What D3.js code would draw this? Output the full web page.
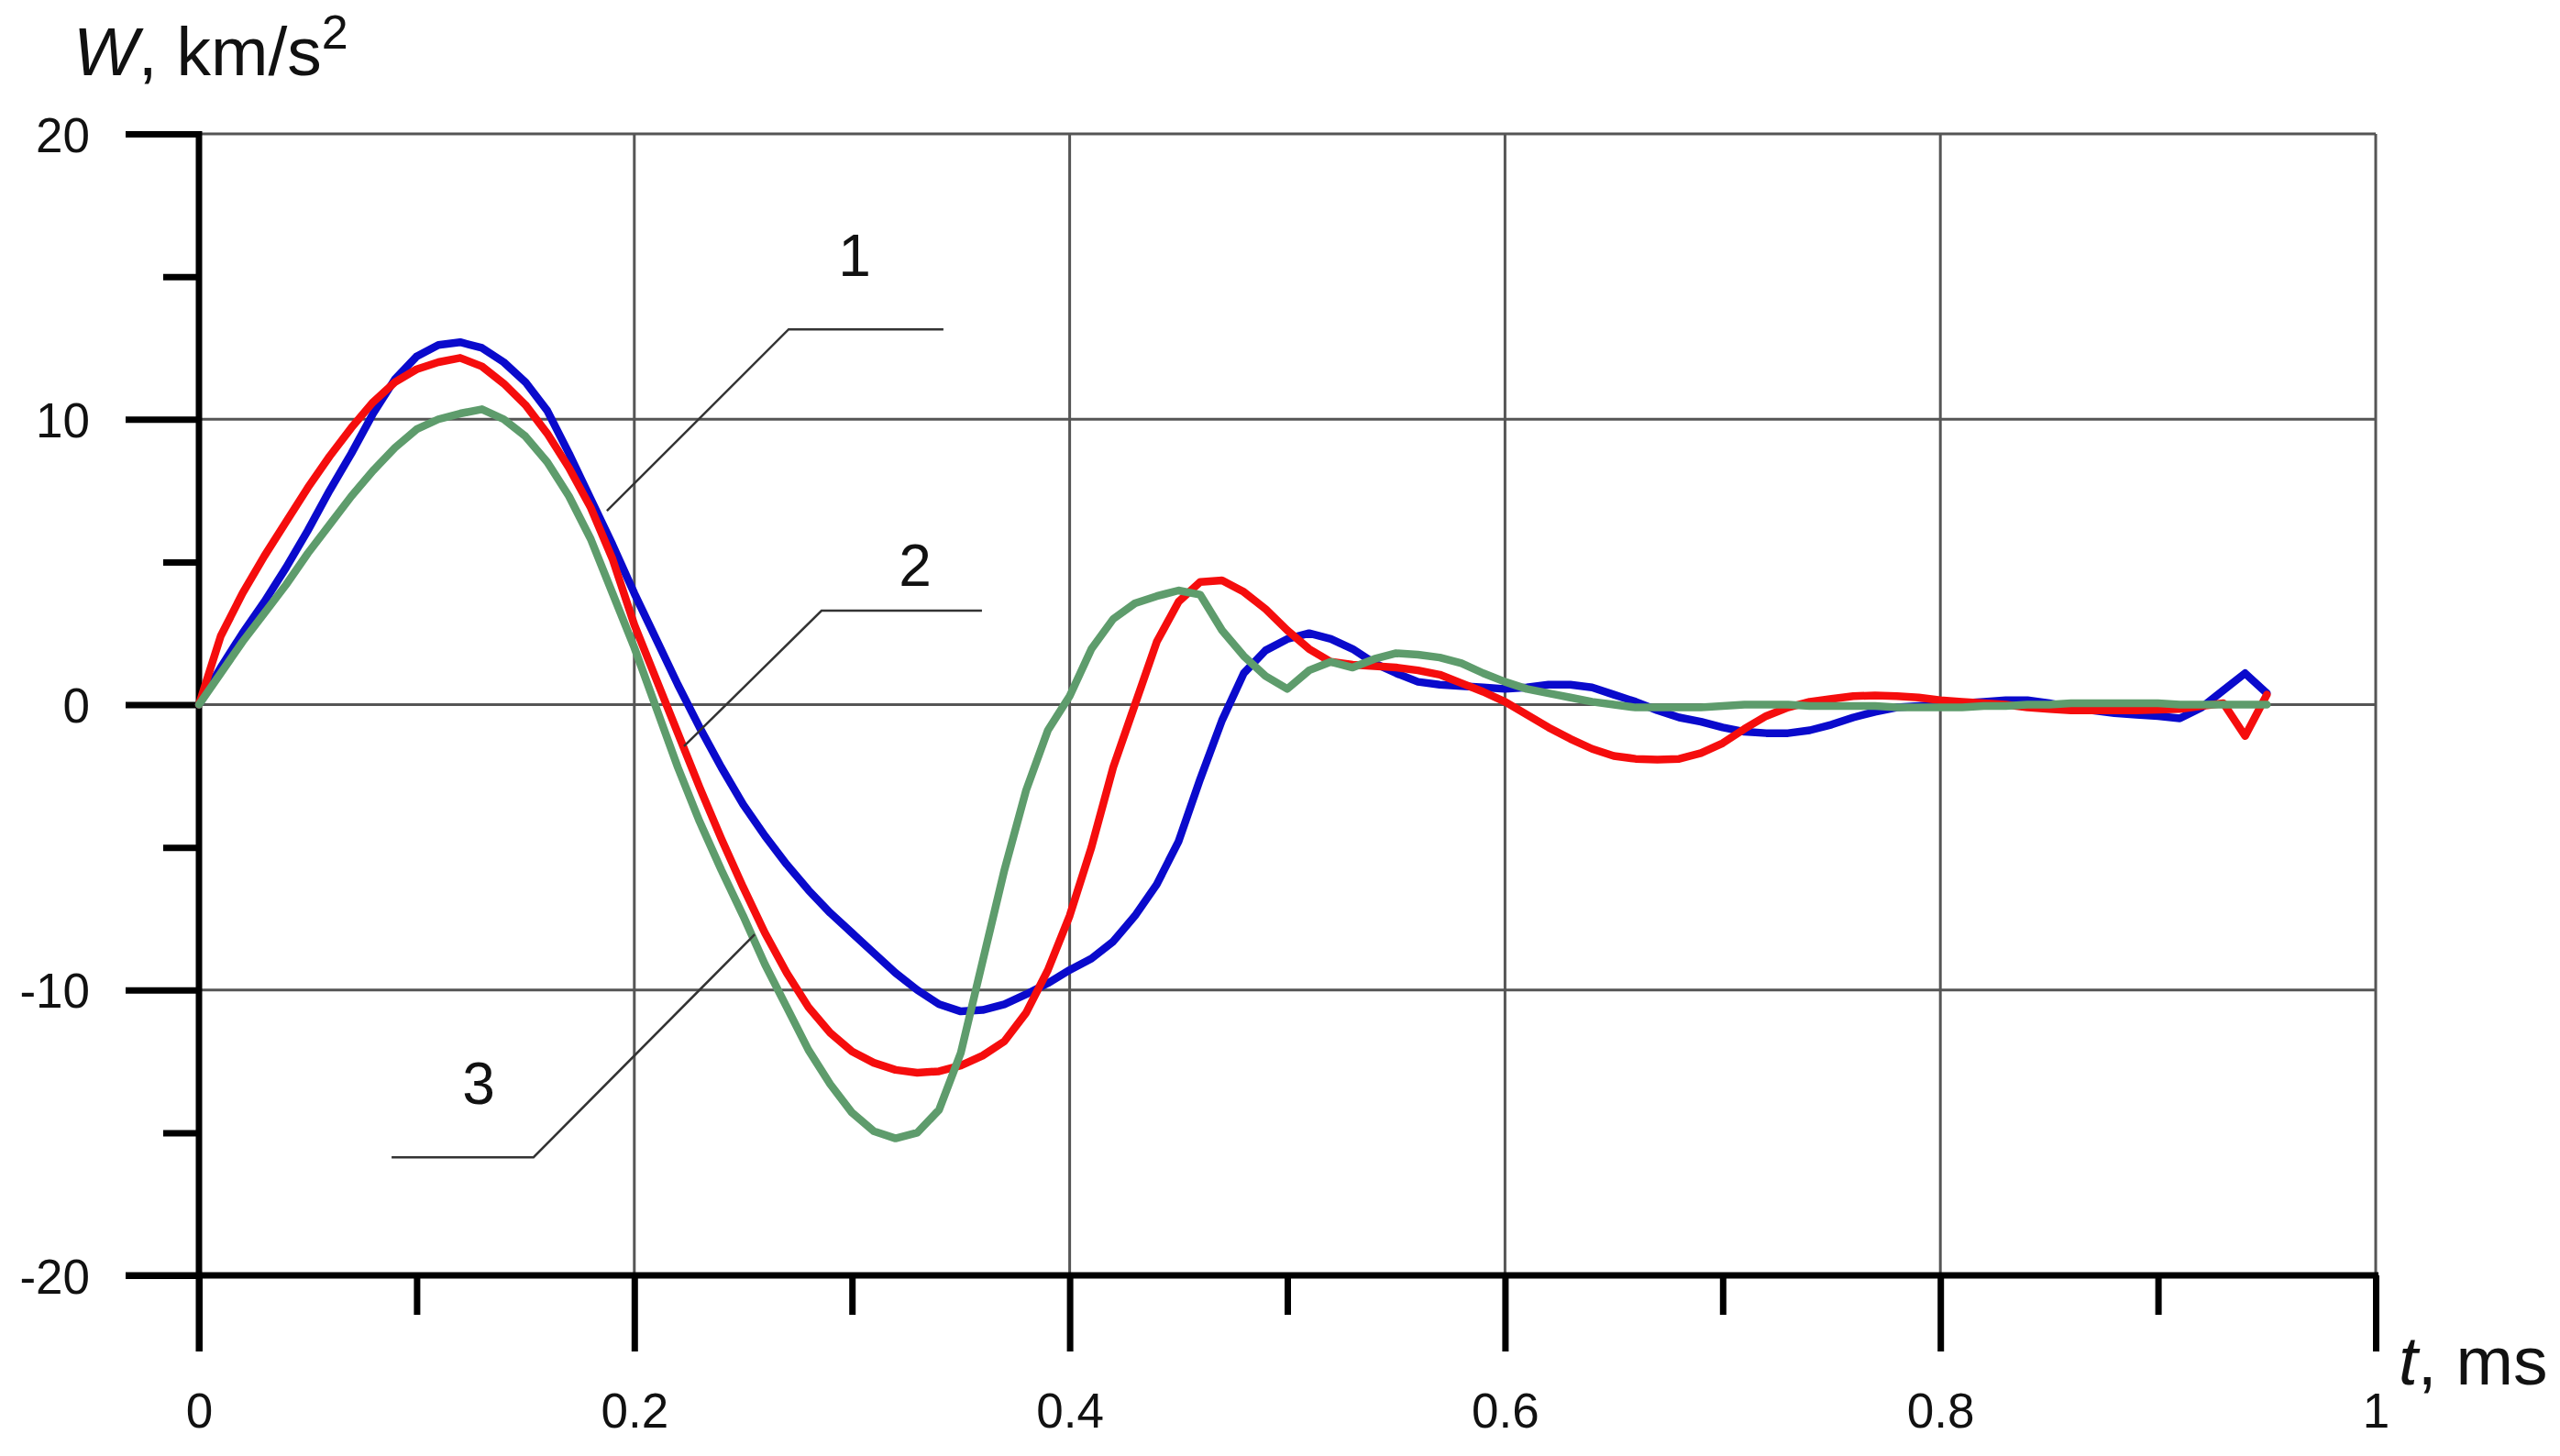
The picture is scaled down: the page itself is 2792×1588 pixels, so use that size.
<!DOCTYPE html>
<html><head><meta charset="utf-8">
<script src="https://cdn.jsdelivr.net/npm/d3@7"></script>
<style>
html,body{margin:0;padding:0;background:#fff;}
svg{display:block;font-family:"Liberation Sans",Arial,sans-serif;}
</style></head><body>
<svg id="chart" width="2792" height="1588"></svg>
<script>
// ---- data ----
const time = [0,0.01,0.02,0.03,0.04,0.05,0.06,0.07,0.08,0.09,
  0.10,0.11,0.12,0.13,0.14,0.15,0.16,0.17,0.18,0.19,
  0.20,0.21,0.22,0.23,0.24,0.25,0.26,0.27,0.28,0.29,
  0.30,0.31,0.32,0.33,0.34,0.35,0.36,0.37,0.38,0.39,
  0.40,0.41,0.42,0.43,0.44,0.45,0.46,0.47,0.48,0.49,
  0.50,0.51,0.52,0.53,0.54,0.55,0.56,0.57,0.58,0.59,
  0.60,0.61,0.62,0.63,0.64,0.65,0.66,0.67,0.68,0.69,
  0.70,0.71,0.72,0.73,0.74,0.75,0.76,0.77,0.78,0.79,
  0.80,0.81,0.82,0.83,0.84,0.85,0.86,0.87,0.88,0.89,
  0.90,0.91,0.92,0.93,0.94,0.95];
const series1 = [0,1.3,2.5,3.6,4.8,6.1,7.5,8.8,10.2,11.4,
  12.2,12.6,12.7,12.5,12.0,11.3,10.3,8.8,7.2,5.6,
  3.9,2.3,0.7,-0.8,-2.2,-3.5,-4.6,-5.6,-6.5,-7.3,
  -8.0,-8.7,-9.4,-10.0,-10.5,-10.75,-10.7,-10.5,-10.15,-9.76,
  -9.3,-8.9,-8.3,-7.4,-6.3,-4.8,-2.6,-0.55,1.1,1.9,
  2.3,2.5,2.3,1.95,1.45,1.1,0.8,0.7,0.65,0.6,
  0.55,0.6,0.7,0.7,0.6,0.35,0.1,-0.2,-0.45,-0.6,
  -0.8,-0.95,-1.0,-1.0,-0.9,-0.7,-0.45,-0.25,-0.1,-0.05,
  0.0,0.05,0.1,0.15,0.15,0.05,-0.1,-0.2,-0.3,-0.35,
  -0.4,-0.48,-0.1,0.5,1.1,0.4];
const series2 = [0,2.4,3.9,5.2,6.4,7.6,8.7,9.7,10.6,11.3,
  11.75,12.0,12.15,11.85,11.25,10.5,9.5,8.3,6.9,5.1,
  2.8,0.9,-1.0,-2.9,-4.7,-6.4,-8.0,-9.4,-10.6,-11.5,
  -12.15,-12.55,-12.8,-12.9,-12.85,-12.65,-12.3,-11.8,-10.8,-9.3,
  -7.4,-5.0,-2.2,0.0,2.2,3.6,4.3,4.35,3.95,3.35,
  2.6,1.95,1.5,1.4,1.35,1.3,1.2,1.05,0.75,0.45,
  0.1,-0.35,-0.8,-1.2,-1.55,-1.8,-1.9,-1.93,-1.9,-1.7,
  -1.35,-0.85,-0.4,-0.1,0.1,0.2,0.3,0.32,0.3,0.25,
  0.15,0.1,0.05,0.0,-0.1,-0.15,-0.2,-0.2,-0.2,-0.2,
  -0.18,-0.15,-0.05,0.05,-1.1,0.35];
const series3 = [0,1.1,2.2,3.2,4.2,5.3,6.3,7.3,8.2,9.0,
  9.65,10.0,10.2,10.35,10.0,9.4,8.5,7.3,5.8,3.9,
  2.0,-0.1,-2.2,-4.1,-5.8,-7.4,-9.1,-10.6,-12.1,-13.3,
  -14.3,-14.95,-15.2,-15.0,-14.2,-12.2,-9.0,-5.8,-3.0,-0.9,
  0.3,1.95,3.0,3.55,3.8,4.0,3.85,2.6,1.7,1.0,
  0.55,1.2,1.5,1.3,1.6,1.8,1.75,1.65,1.45,1.1,
  0.8,0.55,0.4,0.25,0.1,0.0,-0.1,-0.1,-0.1,-0.1,
  -0.05,0.0,0.0,0.0,-0.05,-0.05,-0.05,-0.05,-0.1,-0.1,
  -0.1,-0.1,-0.05,-0.05,0.0,0.0,0.05,0.05,0.05,0.05,
  0.05,0.0,0.0,0.0,0.0,0.0];
const seriesLabels = ["1","2","3"];
const xMajorTicks = [0,0.2,0.4,0.6,0.8,1];
const xMinorTicks = [0.1,0.3,0.5,0.7,0.9];
const xTickLabels = ["0","0.2","0.4","0.6","0.8","1"];
const yMajorTicks = [-20,-10,0,10,20];
const yMinorTicks = [-15,-5,5,15];
const yTickLabels = ["-20","-10","0","10","20"];
const xGridValues = [0.2,0.4,0.6,0.8,1];
const yGridValues = [-10,0,10,20];

// ---- layout ----
const svg = d3.select("#chart");
const x = d3.scaleLinear().domain([0,1]).range([217,2591]);
const y = d3.scaleLinear().domain([-20,20]).range([1391,146]);
const colors = ["#0a0acc","#f50d0d","#5e9c6c"];

// grid
const grid = svg.append("g").attr("stroke","#555").attr("stroke-width",3);
grid.selectAll(".vg").data(xGridValues).join("line")
  .attr("x1",d=>x(d)).attr("x2",d=>x(d)).attr("y1",y(20)).attr("y2",y(-20));
grid.selectAll(".hg").data(yGridValues).join("line")
  .attr("x1",x(0)).attr("x2",x(1)).attr("y1",d=>y(d)).attr("y2",d=>y(d));

// axes
function styleAxis(g){
  g.select(".domain").remove();
  g.selectAll(".tick line").attr("stroke","#000").attr("stroke-width",7);
  g.selectAll("text").attr("fill","#111").attr("font-size",53)
   .attr("font-family",'"Liberation Sans",Arial,sans-serif');
}
const xAxisMajor = svg.append("g").attr("transform",`translate(0,${y(-20)})`)
  .call(d3.axisBottom(x).tickValues(xMajorTicks).tickSize(83).tickSizeOuter(0)
        .tickFormat((d,i)=>xTickLabels[i]));
styleAxis(xAxisMajor);
xAxisMajor.selectAll("text").attr("y",166).attr("dy",0);
const xAxisMinor = svg.append("g").attr("transform",`translate(0,${y(-20)})`)
  .call(d3.axisBottom(x).tickValues(xMinorTicks).tickSize(43).tickSizeOuter(0).tickFormat(""));
styleAxis(xAxisMinor);

const yAxisMajor = svg.append("g").attr("transform",`translate(${x(0)},0)`)
  .call(d3.axisLeft(y).tickValues(yMajorTicks).tickSize(80).tickSizeOuter(0)
        .tickFormat((d,i)=>yTickLabels[i]));
styleAxis(yAxisMajor);
yAxisMajor.selectAll("text").attr("x",-119).attr("dy","0.36em");
const yAxisMinor = svg.append("g").attr("transform",`translate(${x(0)},0)`)
  .call(d3.axisLeft(y).tickValues(yMinorTicks).tickSize(39).tickSizeOuter(0).tickFormat(""));
styleAxis(yAxisMinor);

// axis lines
svg.append("line").attr("x1",x(0)).attr("x2",x(0)).attr("y1",y(20)-3).attr("y2",y(-20)+83)
  .attr("stroke","#000").attr("stroke-width",7);
svg.append("line").attr("x1",x(0)-80).attr("x2",x(1)+3).attr("y1",y(-20)).attr("y2",y(-20))
  .attr("stroke","#000").attr("stroke-width",7);

// series
const line = d3.line().x(d=>x(d[0])).y(d=>y(d[1])).curve(d3.curveLinear);
[series1,series2,series3].forEach((s,i)=>{
  svg.append("path").datum(time.map((t,j)=>[t,s[j]]))
    .attr("fill","none").attr("stroke",colors[i]).attr("stroke-width",8.5)
    .attr("stroke-linejoin","round").attr("stroke-linecap","round").attr("d",line);
});

// callouts (positions in data units)
const callouts = [
  {label:seriesLabels[0], tip:[0.1874,6.79], elbow:[0.2709,13.15], end:[0.342,13.15], text:[0.3012,15.02]},
  {label:seriesLabels[1], tip:[0.2228,-1.46], elbow:[0.286,3.29], end:[0.3597,3.29], text:[0.329,4.16]},
  {label:seriesLabels[2], tip:[0.2553,-8.05], elbow:[0.1537,-15.86], end:[0.0885,-15.86], text:[0.1285,-14.0]}
];
callouts.forEach(c=>{
  svg.append("polyline")
    .attr("points",[c.tip,c.elbow,c.end].map(p=>`${x(p[0])},${y(p[1])}`).join(" "))
    .attr("fill","none").attr("stroke","#333").attr("stroke-width",2.5);
  svg.append("text").attr("x",x(c.text[0])).attr("y",y(c.text[1]))
    .attr("text-anchor","middle").attr("font-size",64).attr("fill","#111").text(c.label);
});

// axis titles
const yt = svg.append("text").attr("x",80).attr("y",82).attr("font-size",75).attr("fill","#111");
yt.append("tspan").attr("font-style","italic").text("W");
yt.append("tspan").text(", km/s");
yt.append("tspan").attr("font-size",52).attr("dy",-29).text("2");

const xt = svg.append("text").attr("x",2616).attr("y",1510).attr("font-size",75).attr("fill","#111");
xt.append("tspan").attr("font-style","italic").text("t");
xt.append("tspan").text(", ms");
</script>
</body></html>
